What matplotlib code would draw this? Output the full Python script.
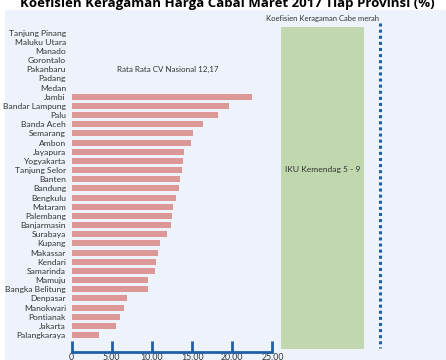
import matplotlib
matplotlib.use('Agg')
import matplotlib.pyplot as plt
from matplotlib.patches import Rectangle
from matplotlib.ticker import FuncFormatter

# data
kota = ['Tanjung Pinang', 'Maluku Utara', 'Manado', 'Gorontalo', 'Pakanbaru',
        'Padang', 'Medan', 'Jambi', 'Bandar Lampung', 'Palu', 'Banda Aceh',
        'Semarang', 'Ambon', 'Jayapura', 'Yogyakarta', 'Tanjung Selor', 'Banten',
        'Bandung', 'Bengkulu', 'Mataram', 'Palembang', 'Banjarmasin', 'Surabaya',
        'Kupang', 'Makassar', 'Kendari', 'Samarinda', 'Mamuju', 'Bangka Belitung',
        'Denpasar', 'Manokwari', 'Pontianak', 'Jakarta', 'Palangkaraya']
cv = [0, 0, 0, 0, 0, 0, 0, 22.45, 19.6, 18.2, 16.35, 15.1, 14.85, 14.0, 13.87,
      13.74, 13.5, 13.37, 13.0, 12.6, 12.5, 12.38, 11.88, 11.0, 10.76, 10.5,
      10.39, 9.5, 9.5, 6.9, 6.5, 6.0, 5.5, 3.4]
xticks = [0, 5, 10, 15, 20, 25]

bg = '#eef2fa'
biru = '#1f5faa'
teks = '#333333'

plt.rcParams['font.family'] = ['Lato', 'DejaVu Sans']

fig = plt.figure(figsize=(4.46, 3.6), dpi=100)
fig.patch.set_facecolor('white')
# panel latar
panel = Rectangle((5 / 446, 0), 1, 1 - 10 / 360, transform=fig.transFigure,
                  facecolor=bg, edgecolor='none', zorder=-10)
fig.add_artist(panel)
# judul, terpotong di tepi atas seperti aslinya
fig.text(0.51, 1 - 6.5 / 360, 'Koefisien Keragaman Harga Cabai Maret 2017 Tiap Provinsi (%)',
         ha='center', va='baseline', fontsize=9.5, fontweight='bold', color='black',
         family=['Open Sans', 'DejaVu Sans'])

ax = fig.add_axes([71.5 / 446, 8 / 360, 1 - 71.5 / 446, 325 / 360])
ax.set_facecolor('none')
y = list(range(len(kota)))
ax.barh(y, cv, height=0.66, color='#dc9896', zorder=2)
ax.set_ylim(34.84, -0.6)
ax.set_xlim(0, 46.6)
ax.set_yticks(y)
ax.set_yticklabels(kota, fontsize=6.1, color=teks)
ax.tick_params(axis='y', length=0, pad=4)

ax.set_xticks(xticks)
ax.xaxis.set_major_formatter(FuncFormatter(lambda v, p: '0' if v == 0 else f'{v:.2f}'))
ax.tick_params(axis='x', direction='in', length=8, width=2, color=biru,
               labelsize=6.3, labelcolor=teks, pad=1)
for s in ['top', 'right', 'left']:
    ax.spines[s].set_visible(False)
ax.spines['bottom'].set_color(biru)
ax.spines['bottom'].set_linewidth(2)
ax.spines['bottom'].set_bounds(0, 25)

ax.text(0.122, 0.87, 'Rata Rata CV Nasional 12,17', transform=ax.transAxes,
        fontsize=5.8, color=teks, ha='left', va='center')

# kotak hijau
ax.add_patch(Rectangle((26.05, 0.01), 10.35, 0.99, transform=ax.get_xaxis_transform(),
                       facecolor='#c1d7ae', edgecolor='none', zorder=1))
ax.text(31.2, 0.56, 'IKU Kemendag 5 - 9', transform=ax.get_xaxis_transform(),
        fontsize=6.1, color=teks, ha='center', va='center')
fig.text(322 / 446, 1 - 18 / 360, 'Koefisien Keragaman Cabe merah',
         fontsize=5.5, color=teks, ha='center', va='center')

# garis putus-putus
ax.plot([38.37, 38.37], [-1.05, 34.4], color=biru, lw=2.2, dashes=(1, 1),
        solid_capstyle='butt', dash_capstyle='butt', clip_on=False, zorder=3)

fig.savefig('out.png', dpi=100, facecolor=fig.get_facecolor())
